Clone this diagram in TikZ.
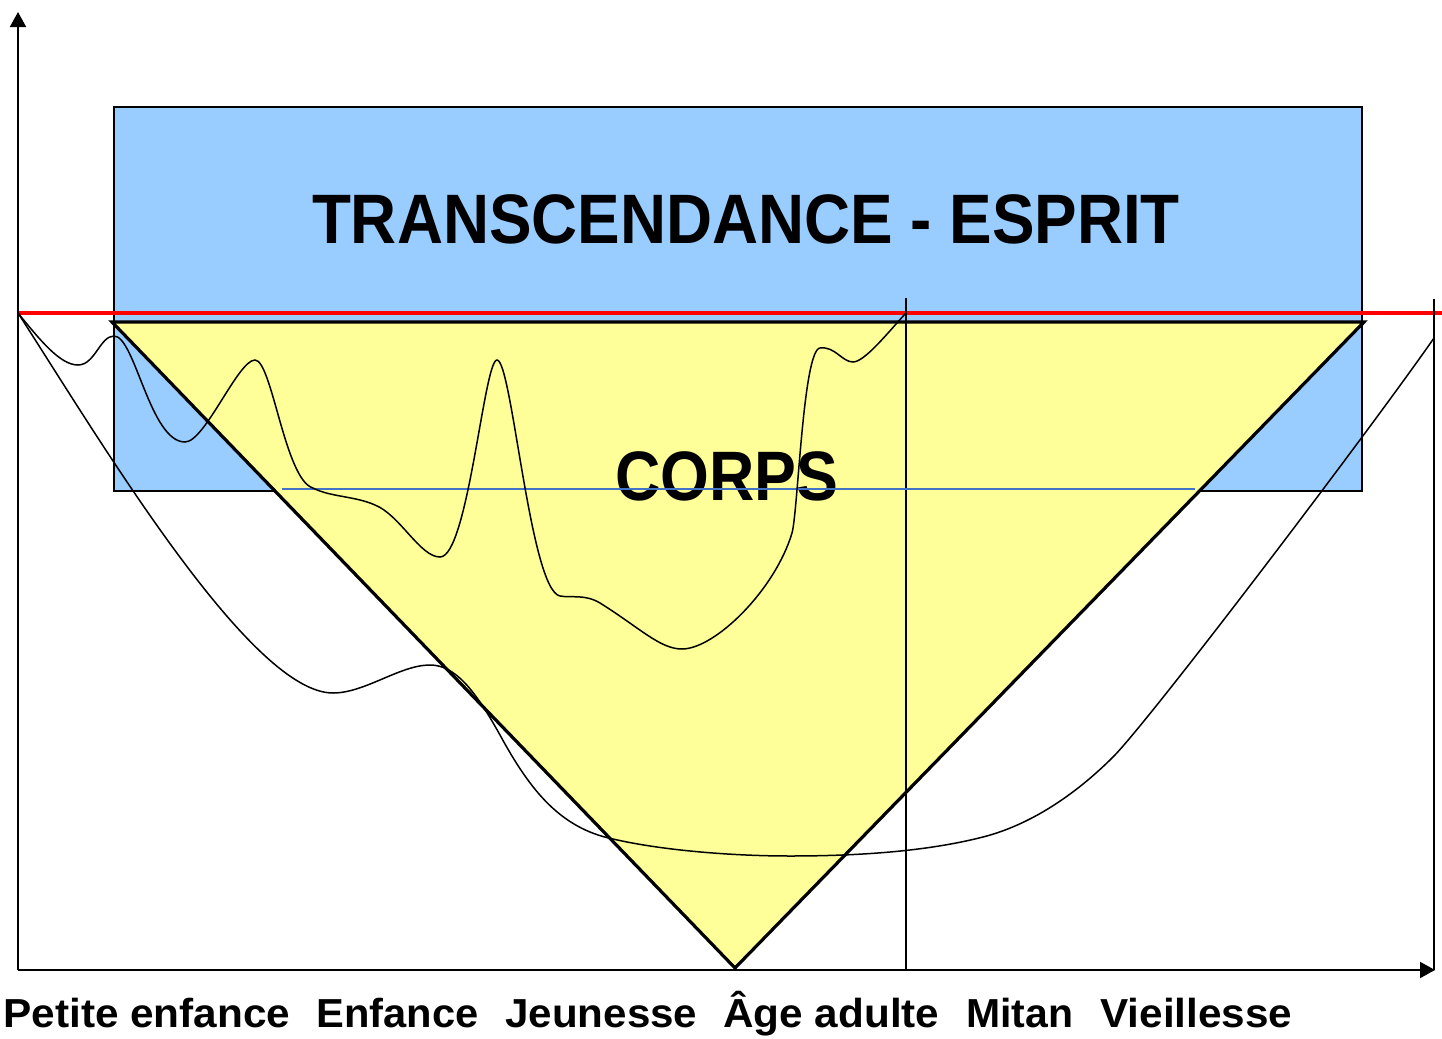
\documentclass[tikz,border=0pt]{standalone}
\usepackage{fontspec}
\setmainfont{Liberation Sans}
\usetikzlibrary{arrows.meta}
\definecolor{skyfill}{HTML}{99CCFF}
\definecolor{lemon}{HTML}{FFFF99}
\definecolor{guideblue}{HTML}{4472C4}
\begin{document}
\begin{tikzpicture}[x=0.5pt,y=-0.5pt,
  axisline/.style={line width=1pt,-{Triangle[length=7.5pt,width=8pt]}},
  thincurve/.style={line width=0.75pt},
  thinrule/.style={line width=0.8pt},
  bigtitle/.style={inner sep=0pt,anchor=base,font=\fontsize{35}{40}\selectfont\bfseries},
  agelabel/.style={inner sep=0pt,anchor=base west,font=\fontsize{20.25}{22}\selectfont\bfseries}]
\useasboundingbox (0,0) rectangle (1442,1039);
% blue rectangle
\draw[line width=1pt,fill=skyfill] (114,107) rectangle (1362,491);
% yellow triangle
\draw[line width=1.6pt,fill=lemon,line join=miter] (112,322) -- (1364,322) -- (735,968) -- cycle;
% red line
\draw[red,line width=2pt] (18,313) -- (1442,313);
% axes
\coordinate (origin) at (18,970);
\coordinate (ytip) at (18,12);
\coordinate (xtip) at (1435,970);
\draw[axisline] (origin) -- (ytip);
\draw[axisline] (origin) -- (xtip);
% vertical rules
\draw[thinrule] (906,298) -- (906,970);
\draw[thinrule] (1434,299) -- (1434,970);
% texts
\node[bigtitle] (esprit) at (746,243) {\resizebox{434pt}{\height}{TRANSCENDANCE - ESPRIT}};
\node[bigtitle] (corps) at (727,500) {\resizebox{111.5pt}{\height}{CORPS}};
% blue guide line
\draw[guideblue,line width=0.8pt] (282,489) -- (1195,489);
% curve 1
\draw[thincurve] (18,313) .. controls (40,340) and (60,365) .. (78,365)
  .. controls (95,365) and (100,336) .. (114,336)
  .. controls (135,336) and (150,442) .. (185,442)
  .. controls (205,442) and (238,360) .. (255,360)
  .. controls (272,360) and (285,480) .. (313,488)
  .. controls (330,497) and (355,496) .. (375,505)
  .. controls (400,515) and (420,557) .. (440,557)
  .. controls (468,557) and (484,360) .. (497,360)
  .. controls (512,360) and (530,590) .. (560,596)
  .. controls (572,598) and (585,594) .. (600,603)
  .. controls (640,628) and (660,649) .. (682,649)
  .. controls (715,649) and (775,590) .. (792,533)
  .. controls (798,512) and (803,350) .. (820,348)
  .. controls (835,346) and (842,362) .. (853,362)
  .. controls (865,362) and (890,330) .. (906,313);
% curve 2
\draw[thincurve] (18,313) .. controls (100,440) and (250,693) .. (333,693)
  .. controls (365,693) and (400,665) .. (430,665)
  .. controls (455,665) and (475,690) .. (500,735)
  .. controls (530,790) and (560,828) .. (613,839)
  .. controls (660,850) and (730,856) .. (790,856)
  .. controls (880,856) and (940,848) .. (983,837)
  .. controls (1030,825) and (1075,795) .. (1113,757)
  .. controls (1150,720) and (1370,430) .. (1434,338);
% age labels
\node[agelabel] (petite) at (3,1027) {\resizebox{143.5pt}{\height}{Petite enfance}};
\node[agelabel] (enfance) at (316,1027) {\resizebox{81pt}{\height}{Enfance}};
\node[agelabel] (jeunesse) at (505,1027) {\resizebox{96pt}{\height}{Jeunesse}};
\node[agelabel] (adulte) at (723,1027) {\resizebox{108pt}{\height}{Âge adulte}};
\node[agelabel] (mitan) at (966,1027) {\resizebox{53.5pt}{\height}{Mitan}};
\node[agelabel] (vieillesse) at (1100,1027) {\resizebox{96pt}{\height}{Vieillesse}};
\end{tikzpicture}
\end{document}
